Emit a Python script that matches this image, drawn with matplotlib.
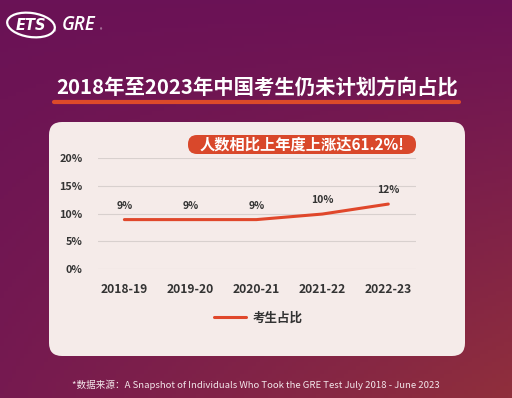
import numpy as np
import matplotlib
matplotlib.use("Agg")
import matplotlib.pyplot as plt
from matplotlib.patches import FancyBboxPatch, Ellipse
from matplotlib.colors import to_rgb

plt.rcParams['font.family'] = ['Noto Sans CJK SC', 'DejaVu Sans']

# ---- data ----
categories = ["2018-19", "2019-20", "2020-21", "2021-22", "2022-23"]
share = [8.9, 8.9, 8.9, 9.9, 11.7]
yticks = [0, 5, 10, 15, 20]
title = "2018年至2023年中国考生仍未计划方向占比"
callout = "人数相比上年度上涨达61.2%!"
series_name = "考生占比"
footnote = "*数据来源：A Snapshot of Individuals Who Took the GRE Test July 2018 - June 2023"

W, H = 512, 398
fig = plt.figure(figsize=(W / 100, H / 100), dpi=100)

# ---- background gradient ----
bg = fig.add_axes([0, 0, 1, 1])
bg.set_xlim(0, W)
bg.set_ylim(H, 0)
bg.axis("off")
tl, tr = np.array(to_rgb("#6a1256")), np.array(to_rgb("#6c1256"))
bl, br = np.array(to_rgb("#761a50")), np.array(to_rgb("#902f3c"))
u = np.linspace(0, 1, 128)[None, :, None]
v = np.linspace(0, 1, 100)[:, None, None]
img = (1 - v) * ((1 - u) * tl + u * tr) + v * ((1 - u) * bl + u * br)
bg.imshow(img, extent=[0, W, H, 0], aspect="auto", zorder=0)

# logo
bg.add_patch(Ellipse((31, 25), 48, 24, angle=8, fill=False, ec="white", lw=1.6, zorder=2))
bg.text(31, 25.5, "ETS", color="white", fontsize=10.5, fontweight="bold", style="italic",
        ha="center", va="center", family="DejaVu Sans", zorder=3)
bg.text(62, 25, "GRE", color="white", fontsize=13.5, style="italic", fontweight="semibold",
        ha="left", va="center", family="Open Sans", zorder=3)
bg.text(55, 33, "®", color="white", fontsize=3.5, ha="center", va="center", zorder=3)
bg.text(101, 31, "®", color="white", fontsize=3.5, ha="center", va="center", zorder=3)

# title + underline
bg.text(257, 88, title, color="white", fontsize=14.7, fontweight="bold",
        ha="center", va="center", zorder=3)
bg.plot([54, 459], [102, 102], color="#dc4a2a", lw=3, solid_capstyle="round", zorder=3)

# card
bg.add_patch(FancyBboxPatch((49 + 13, 122 + 13), 416 - 26, 234 - 26,
                            boxstyle="round,pad=13", fc="#f5ebe9", ec="none", zorder=1))

# callout
bg.add_patch(FancyBboxPatch((188, 135), 228, 19, boxstyle="round,pad=0,rounding_size=9",
                            fc="#d9482b", ec="none", zorder=2))
bg.text(302, 144.5, callout, color="white", fontsize=11, fontweight="bold",
        ha="center", va="center", zorder=3)

# footnote
bg.text(256, 385, footnote, color="#f3e6ea", fontsize=6.9, ha="center", va="center", zorder=3)

# ---- chart ----
ax = fig.add_axes([98 / W, 1 - 269 / H, (416 - 98) / W, (269 - 158) / H])
ax.patch.set_alpha(0)
x = np.arange(len(categories))
ax.plot(x, share, color="#e0472b", lw=2.2, solid_capstyle="round", label=series_name, zorder=3)
for xi, yi in zip(x, share):
    ax.annotate(f"{yi:.0f}%", (xi, yi), xytext=(0, 10), textcoords="offset points",
                ha="center", va="center", fontsize=7.5, color="#333333", fontweight="bold")
ax.set_xlim(-0.4, 4.42)
ax.set_ylim(0, 20)
ax.set_yticks(yticks)
ax.set_yticklabels([f"{t}%" for t in yticks], fontsize=7.8, color="#333333", fontweight="bold")
ax.set_xticks(x)
ax.set_xticklabels(categories, fontsize=8.7, color="#333333", fontweight="bold")
ax.tick_params(axis="y", length=0, pad=11)
ax.tick_params(axis="x", length=0, pad=10)
ax.grid(axis="y", color="#d8d0ce", lw=0.8)
ax.set_axisbelow(True)
for s in ax.spines.values():
    s.set_visible(False)

leg = ax.legend(loc="center", bbox_to_anchor=(258 / W, 1 - 318 / H), bbox_transform=fig.transFigure,
                frameon=False, handlelength=2.6, prop={"size": 9, "weight": "bold"},
                handletextpad=0.5)
for t in leg.get_texts():
    t.set_color("#333333")

fig.savefig("out.png", dpi=100)
